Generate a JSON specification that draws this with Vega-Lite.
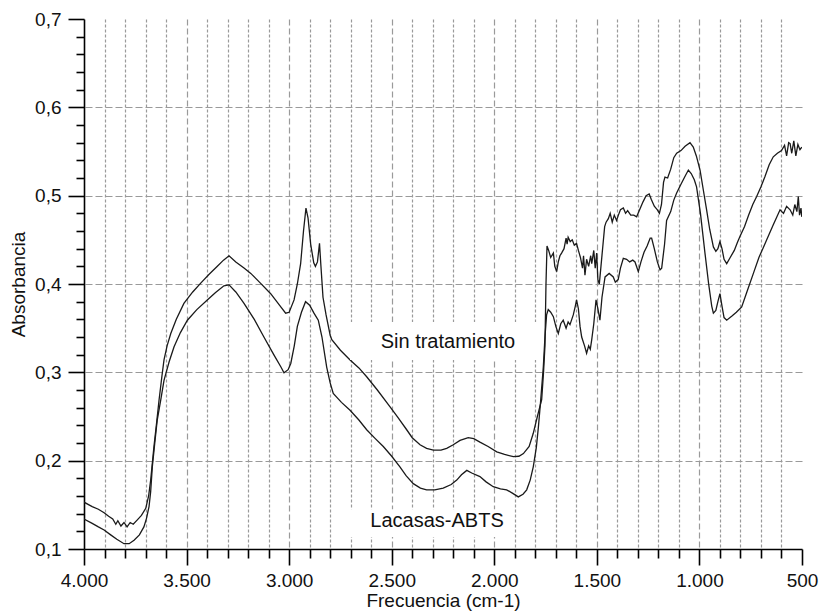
{
  "$schema": "https://vega.github.io/schema/vega-lite/v6.json",
  "width": 718,
  "height": 530,
  "autosize": "none",
  "padding": {"left": 84, "top": 19, "right": 19, "bottom": 67},
  "background": "white",
  "config": {
    "view": {"stroke": null},
    "font": "Liberation Sans",
    "axis": {
      "domainColor": "#000",
      "domainWidth": 1.6,
      "tickColor": "#000",
      "tickWidth": 1.6,
      "gridColor": "#9a9a9a",
      "gridWidth": 1.2,
      "labelFont": "Liberation Sans",
      "labelFontSize": 19,
      "labelColor": "#111",
      "titleFont": "Liberation Sans",
      "titleFontSize": 19,
      "titleFontWeight": "normal",
      "titleColor": "#111",
      "labelOverlap": false,
      "labelFlush": false,
      "labelBound": false
    }
  },
  "datasets": {
    "spectra": [
      {"nu": 4000, "A": 0.153, "serie": "Sin tratamiento"},
      {"nu": 3960, "A": 0.148, "serie": "Sin tratamiento"},
      {"nu": 3930, "A": 0.145, "serie": "Sin tratamiento"},
      {"nu": 3902, "A": 0.141, "serie": "Sin tratamiento"},
      {"nu": 3880, "A": 0.137, "serie": "Sin tratamiento"},
      {"nu": 3860, "A": 0.134, "serie": "Sin tratamiento"},
      {"nu": 3845, "A": 0.128, "serie": "Sin tratamiento"},
      {"nu": 3835, "A": 0.132, "serie": "Sin tratamiento"},
      {"nu": 3820, "A": 0.126, "serie": "Sin tratamiento"},
      {"nu": 3805, "A": 0.130, "serie": "Sin tratamiento"},
      {"nu": 3790, "A": 0.125, "serie": "Sin tratamiento"},
      {"nu": 3775, "A": 0.130, "serie": "Sin tratamiento"},
      {"nu": 3760, "A": 0.128, "serie": "Sin tratamiento"},
      {"nu": 3740, "A": 0.133, "serie": "Sin tratamiento"},
      {"nu": 3720, "A": 0.138, "serie": "Sin tratamiento"},
      {"nu": 3699, "A": 0.146, "serie": "Sin tratamiento"},
      {"nu": 3685, "A": 0.160, "serie": "Sin tratamiento"},
      {"nu": 3675, "A": 0.178, "serie": "Sin tratamiento"},
      {"nu": 3659, "A": 0.216, "serie": "Sin tratamiento"},
      {"nu": 3645, "A": 0.245, "serie": "Sin tratamiento"},
      {"nu": 3634, "A": 0.269, "serie": "Sin tratamiento"},
      {"nu": 3620, "A": 0.296, "serie": "Sin tratamiento"},
      {"nu": 3610, "A": 0.314, "serie": "Sin tratamiento"},
      {"nu": 3595, "A": 0.330, "serie": "Sin tratamiento"},
      {"nu": 3577, "A": 0.344, "serie": "Sin tratamiento"},
      {"nu": 3550, "A": 0.360, "serie": "Sin tratamiento"},
      {"nu": 3513, "A": 0.378, "serie": "Sin tratamiento"},
      {"nu": 3470, "A": 0.391, "serie": "Sin tratamiento"},
      {"nu": 3431, "A": 0.401, "serie": "Sin tratamiento"},
      {"nu": 3390, "A": 0.411, "serie": "Sin tratamiento"},
      {"nu": 3350, "A": 0.420, "serie": "Sin tratamiento"},
      {"nu": 3320, "A": 0.427, "serie": "Sin tratamiento"},
      {"nu": 3293, "A": 0.432, "serie": "Sin tratamiento"},
      {"nu": 3260, "A": 0.425, "serie": "Sin tratamiento"},
      {"nu": 3220, "A": 0.418, "serie": "Sin tratamiento"},
      {"nu": 3187, "A": 0.412, "serie": "Sin tratamiento"},
      {"nu": 3140, "A": 0.401, "serie": "Sin tratamiento"},
      {"nu": 3090, "A": 0.389, "serie": "Sin tratamiento"},
      {"nu": 3050, "A": 0.377, "serie": "Sin tratamiento"},
      {"nu": 3017, "A": 0.367, "serie": "Sin tratamiento"},
      {"nu": 3000, "A": 0.368, "serie": "Sin tratamiento"},
      {"nu": 2976, "A": 0.382, "serie": "Sin tratamiento"},
      {"nu": 2960, "A": 0.400, "serie": "Sin tratamiento"},
      {"nu": 2944, "A": 0.423, "serie": "Sin tratamiento"},
      {"nu": 2930, "A": 0.460, "serie": "Sin tratamiento"},
      {"nu": 2918, "A": 0.486, "serie": "Sin tratamiento"},
      {"nu": 2908, "A": 0.475, "serie": "Sin tratamiento"},
      {"nu": 2895, "A": 0.445, "serie": "Sin tratamiento"},
      {"nu": 2880, "A": 0.424, "serie": "Sin tratamiento"},
      {"nu": 2872, "A": 0.420, "serie": "Sin tratamiento"},
      {"nu": 2862, "A": 0.425, "serie": "Sin tratamiento"},
      {"nu": 2852, "A": 0.446, "serie": "Sin tratamiento"},
      {"nu": 2845, "A": 0.420, "serie": "Sin tratamiento"},
      {"nu": 2835, "A": 0.385, "serie": "Sin tratamiento"},
      {"nu": 2820, "A": 0.365, "serie": "Sin tratamiento"},
      {"nu": 2800, "A": 0.342, "serie": "Sin tratamiento"},
      {"nu": 2792, "A": 0.337, "serie": "Sin tratamiento"},
      {"nu": 2750, "A": 0.325, "serie": "Sin tratamiento"},
      {"nu": 2703, "A": 0.314, "serie": "Sin tratamiento"},
      {"nu": 2660, "A": 0.305, "serie": "Sin tratamiento"},
      {"nu": 2622, "A": 0.295, "serie": "Sin tratamiento"},
      {"nu": 2570, "A": 0.280, "serie": "Sin tratamiento"},
      {"nu": 2508, "A": 0.261, "serie": "Sin tratamiento"},
      {"nu": 2470, "A": 0.249, "serie": "Sin tratamiento"},
      {"nu": 2427, "A": 0.235, "serie": "Sin tratamiento"},
      {"nu": 2400, "A": 0.226, "serie": "Sin tratamiento"},
      {"nu": 2362, "A": 0.218, "serie": "Sin tratamiento"},
      {"nu": 2330, "A": 0.214, "serie": "Sin tratamiento"},
      {"nu": 2297, "A": 0.212, "serie": "Sin tratamiento"},
      {"nu": 2260, "A": 0.212, "serie": "Sin tratamiento"},
      {"nu": 2232, "A": 0.214, "serie": "Sin tratamiento"},
      {"nu": 2200, "A": 0.218, "serie": "Sin tratamiento"},
      {"nu": 2167, "A": 0.223, "serie": "Sin tratamiento"},
      {"nu": 2127, "A": 0.226, "serie": "Sin tratamiento"},
      {"nu": 2100, "A": 0.225, "serie": "Sin tratamiento"},
      {"nu": 2070, "A": 0.221, "serie": "Sin tratamiento"},
      {"nu": 2030, "A": 0.216, "serie": "Sin tratamiento"},
      {"nu": 1988, "A": 0.210, "serie": "Sin tratamiento"},
      {"nu": 1950, "A": 0.207, "serie": "Sin tratamiento"},
      {"nu": 1907, "A": 0.2045, "serie": "Sin tratamiento"},
      {"nu": 1880, "A": 0.205, "serie": "Sin tratamiento"},
      {"nu": 1858, "A": 0.208, "serie": "Sin tratamiento"},
      {"nu": 1830, "A": 0.216, "serie": "Sin tratamiento"},
      {"nu": 1810, "A": 0.231, "serie": "Sin tratamiento"},
      {"nu": 1790, "A": 0.250, "serie": "Sin tratamiento"},
      {"nu": 1769, "A": 0.269, "serie": "Sin tratamiento"},
      {"nu": 1760, "A": 0.300, "serie": "Sin tratamiento"},
      {"nu": 1753, "A": 0.330, "serie": "Sin tratamiento"},
      {"nu": 1748, "A": 0.400, "serie": "Sin tratamiento"},
      {"nu": 1743, "A": 0.443, "serie": "Sin tratamiento"},
      {"nu": 1735, "A": 0.438, "serie": "Sin tratamiento"},
      {"nu": 1725, "A": 0.430, "serie": "Sin tratamiento"},
      {"nu": 1712, "A": 0.435, "serie": "Sin tratamiento"},
      {"nu": 1705, "A": 0.420, "serie": "Sin tratamiento"},
      {"nu": 1696, "A": 0.414, "serie": "Sin tratamiento"},
      {"nu": 1688, "A": 0.425, "serie": "Sin tratamiento"},
      {"nu": 1680, "A": 0.432, "serie": "Sin tratamiento"},
      {"nu": 1672, "A": 0.435, "serie": "Sin tratamiento"},
      {"nu": 1660, "A": 0.440, "serie": "Sin tratamiento"},
      {"nu": 1650, "A": 0.452, "serie": "Sin tratamiento"},
      {"nu": 1645, "A": 0.445, "serie": "Sin tratamiento"},
      {"nu": 1640, "A": 0.453, "serie": "Sin tratamiento"},
      {"nu": 1630, "A": 0.448, "serie": "Sin tratamiento"},
      {"nu": 1620, "A": 0.450, "serie": "Sin tratamiento"},
      {"nu": 1610, "A": 0.444, "serie": "Sin tratamiento"},
      {"nu": 1599, "A": 0.446, "serie": "Sin tratamiento"},
      {"nu": 1590, "A": 0.438, "serie": "Sin tratamiento"},
      {"nu": 1580, "A": 0.430, "serie": "Sin tratamiento"},
      {"nu": 1570, "A": 0.418, "serie": "Sin tratamiento"},
      {"nu": 1565, "A": 0.432, "serie": "Sin tratamiento"},
      {"nu": 1558, "A": 0.410, "serie": "Sin tratamiento"},
      {"nu": 1550, "A": 0.428, "serie": "Sin tratamiento"},
      {"nu": 1540, "A": 0.420, "serie": "Sin tratamiento"},
      {"nu": 1530, "A": 0.432, "serie": "Sin tratamiento"},
      {"nu": 1525, "A": 0.423, "serie": "Sin tratamiento"},
      {"nu": 1515, "A": 0.438, "serie": "Sin tratamiento"},
      {"nu": 1508, "A": 0.418, "serie": "Sin tratamiento"},
      {"nu": 1501, "A": 0.435, "serie": "Sin tratamiento"},
      {"nu": 1495, "A": 0.405, "serie": "Sin tratamiento"},
      {"nu": 1488, "A": 0.400, "serie": "Sin tratamiento"},
      {"nu": 1480, "A": 0.420, "serie": "Sin tratamiento"},
      {"nu": 1470, "A": 0.445, "serie": "Sin tratamiento"},
      {"nu": 1462, "A": 0.465, "serie": "Sin tratamiento"},
      {"nu": 1455, "A": 0.470, "serie": "Sin tratamiento"},
      {"nu": 1444, "A": 0.474, "serie": "Sin tratamiento"},
      {"nu": 1435, "A": 0.480, "serie": "Sin tratamiento"},
      {"nu": 1425, "A": 0.470, "serie": "Sin tratamiento"},
      {"nu": 1415, "A": 0.478, "serie": "Sin tratamiento"},
      {"nu": 1404, "A": 0.472, "serie": "Sin tratamiento"},
      {"nu": 1395, "A": 0.478, "serie": "Sin tratamiento"},
      {"nu": 1385, "A": 0.484, "serie": "Sin tratamiento"},
      {"nu": 1371, "A": 0.486, "serie": "Sin tratamiento"},
      {"nu": 1360, "A": 0.480, "serie": "Sin tratamiento"},
      {"nu": 1350, "A": 0.483, "serie": "Sin tratamiento"},
      {"nu": 1335, "A": 0.478, "serie": "Sin tratamiento"},
      {"nu": 1320, "A": 0.478, "serie": "Sin tratamiento"},
      {"nu": 1306, "A": 0.476, "serie": "Sin tratamiento"},
      {"nu": 1290, "A": 0.485, "serie": "Sin tratamiento"},
      {"nu": 1275, "A": 0.493, "serie": "Sin tratamiento"},
      {"nu": 1260, "A": 0.500, "serie": "Sin tratamiento"},
      {"nu": 1245, "A": 0.502, "serie": "Sin tratamiento"},
      {"nu": 1235, "A": 0.496, "serie": "Sin tratamiento"},
      {"nu": 1220, "A": 0.488, "serie": "Sin tratamiento"},
      {"nu": 1205, "A": 0.484, "serie": "Sin tratamiento"},
      {"nu": 1195, "A": 0.480, "serie": "Sin tratamiento"},
      {"nu": 1185, "A": 0.490, "serie": "Sin tratamiento"},
      {"nu": 1175, "A": 0.515, "serie": "Sin tratamiento"},
      {"nu": 1168, "A": 0.521, "serie": "Sin tratamiento"},
      {"nu": 1155, "A": 0.520, "serie": "Sin tratamiento"},
      {"nu": 1140, "A": 0.530, "serie": "Sin tratamiento"},
      {"nu": 1125, "A": 0.543, "serie": "Sin tratamiento"},
      {"nu": 1111, "A": 0.548, "serie": "Sin tratamiento"},
      {"nu": 1090, "A": 0.551, "serie": "Sin tratamiento"},
      {"nu": 1070, "A": 0.556, "serie": "Sin tratamiento"},
      {"nu": 1046, "A": 0.560, "serie": "Sin tratamiento"},
      {"nu": 1030, "A": 0.555, "serie": "Sin tratamiento"},
      {"nu": 1015, "A": 0.545, "serie": "Sin tratamiento"},
      {"nu": 997, "A": 0.529, "serie": "Sin tratamiento"},
      {"nu": 980, "A": 0.505, "serie": "Sin tratamiento"},
      {"nu": 965, "A": 0.484, "serie": "Sin tratamiento"},
      {"nu": 950, "A": 0.462, "serie": "Sin tratamiento"},
      {"nu": 932, "A": 0.442, "serie": "Sin tratamiento"},
      {"nu": 920, "A": 0.437, "serie": "Sin tratamiento"},
      {"nu": 910, "A": 0.440, "serie": "Sin tratamiento"},
      {"nu": 900, "A": 0.448, "serie": "Sin tratamiento"},
      {"nu": 890, "A": 0.440, "serie": "Sin tratamiento"},
      {"nu": 880, "A": 0.428, "serie": "Sin tratamiento"},
      {"nu": 867, "A": 0.423, "serie": "Sin tratamiento"},
      {"nu": 850, "A": 0.430, "serie": "Sin tratamiento"},
      {"nu": 830, "A": 0.438, "serie": "Sin tratamiento"},
      {"nu": 815, "A": 0.447, "serie": "Sin tratamiento"},
      {"nu": 802, "A": 0.454, "serie": "Sin tratamiento"},
      {"nu": 780, "A": 0.465, "serie": "Sin tratamiento"},
      {"nu": 760, "A": 0.478, "serie": "Sin tratamiento"},
      {"nu": 740, "A": 0.490, "serie": "Sin tratamiento"},
      {"nu": 721, "A": 0.499, "serie": "Sin tratamiento"},
      {"nu": 700, "A": 0.510, "serie": "Sin tratamiento"},
      {"nu": 680, "A": 0.522, "serie": "Sin tratamiento"},
      {"nu": 660, "A": 0.535, "serie": "Sin tratamiento"},
      {"nu": 640, "A": 0.544, "serie": "Sin tratamiento"},
      {"nu": 620, "A": 0.548, "serie": "Sin tratamiento"},
      {"nu": 600, "A": 0.551, "serie": "Sin tratamiento"},
      {"nu": 585, "A": 0.557, "serie": "Sin tratamiento"},
      {"nu": 575, "A": 0.545, "serie": "Sin tratamiento"},
      {"nu": 565, "A": 0.560, "serie": "Sin tratamiento"},
      {"nu": 558, "A": 0.559, "serie": "Sin tratamiento"},
      {"nu": 550, "A": 0.548, "serie": "Sin tratamiento"},
      {"nu": 540, "A": 0.562, "serie": "Sin tratamiento"},
      {"nu": 530, "A": 0.545, "serie": "Sin tratamiento"},
      {"nu": 520, "A": 0.558, "serie": "Sin tratamiento"},
      {"nu": 510, "A": 0.552, "serie": "Sin tratamiento"},
      {"nu": 501, "A": 0.555, "serie": "Sin tratamiento"},
      {"nu": 4000, "A": 0.134, "serie": "Lacasas-ABTS"},
      {"nu": 3960, "A": 0.129, "serie": "Lacasas-ABTS"},
      {"nu": 3930, "A": 0.125, "serie": "Lacasas-ABTS"},
      {"nu": 3902, "A": 0.1215, "serie": "Lacasas-ABTS"},
      {"nu": 3870, "A": 0.116, "serie": "Lacasas-ABTS"},
      {"nu": 3840, "A": 0.111, "serie": "Lacasas-ABTS"},
      {"nu": 3805, "A": 0.106, "serie": "Lacasas-ABTS"},
      {"nu": 3780, "A": 0.106, "serie": "Lacasas-ABTS"},
      {"nu": 3756, "A": 0.110, "serie": "Lacasas-ABTS"},
      {"nu": 3730, "A": 0.116, "serie": "Lacasas-ABTS"},
      {"nu": 3708, "A": 0.125, "serie": "Lacasas-ABTS"},
      {"nu": 3695, "A": 0.135, "serie": "Lacasas-ABTS"},
      {"nu": 3683, "A": 0.148, "serie": "Lacasas-ABTS"},
      {"nu": 3675, "A": 0.165, "serie": "Lacasas-ABTS"},
      {"nu": 3667, "A": 0.193, "serie": "Lacasas-ABTS"},
      {"nu": 3655, "A": 0.220, "serie": "Lacasas-ABTS"},
      {"nu": 3643, "A": 0.246, "serie": "Lacasas-ABTS"},
      {"nu": 3625, "A": 0.270, "serie": "Lacasas-ABTS"},
      {"nu": 3610, "A": 0.291, "serie": "Lacasas-ABTS"},
      {"nu": 3585, "A": 0.312, "serie": "Lacasas-ABTS"},
      {"nu": 3561, "A": 0.329, "serie": "Lacasas-ABTS"},
      {"nu": 3530, "A": 0.345, "serie": "Lacasas-ABTS"},
      {"nu": 3496, "A": 0.359, "serie": "Lacasas-ABTS"},
      {"nu": 3450, "A": 0.371, "serie": "Lacasas-ABTS"},
      {"nu": 3399, "A": 0.382, "serie": "Lacasas-ABTS"},
      {"nu": 3360, "A": 0.390, "serie": "Lacasas-ABTS"},
      {"nu": 3318, "A": 0.398, "serie": "Lacasas-ABTS"},
      {"nu": 3293, "A": 0.399, "serie": "Lacasas-ABTS"},
      {"nu": 3260, "A": 0.391, "serie": "Lacasas-ABTS"},
      {"nu": 3220, "A": 0.378, "serie": "Lacasas-ABTS"},
      {"nu": 3170, "A": 0.360, "serie": "Lacasas-ABTS"},
      {"nu": 3123, "A": 0.340, "serie": "Lacasas-ABTS"},
      {"nu": 3075, "A": 0.320, "serie": "Lacasas-ABTS"},
      {"nu": 3040, "A": 0.306, "serie": "Lacasas-ABTS"},
      {"nu": 3025, "A": 0.2996, "serie": "Lacasas-ABTS"},
      {"nu": 3005, "A": 0.303, "serie": "Lacasas-ABTS"},
      {"nu": 2992, "A": 0.310, "serie": "Lacasas-ABTS"},
      {"nu": 2975, "A": 0.330, "serie": "Lacasas-ABTS"},
      {"nu": 2960, "A": 0.352, "serie": "Lacasas-ABTS"},
      {"nu": 2940, "A": 0.368, "serie": "Lacasas-ABTS"},
      {"nu": 2920, "A": 0.380, "serie": "Lacasas-ABTS"},
      {"nu": 2900, "A": 0.376, "serie": "Lacasas-ABTS"},
      {"nu": 2879, "A": 0.367, "serie": "Lacasas-ABTS"},
      {"nu": 2858, "A": 0.359, "serie": "Lacasas-ABTS"},
      {"nu": 2840, "A": 0.340, "serie": "Lacasas-ABTS"},
      {"nu": 2817, "A": 0.306, "serie": "Lacasas-ABTS"},
      {"nu": 2800, "A": 0.288, "serie": "Lacasas-ABTS"},
      {"nu": 2785, "A": 0.276, "serie": "Lacasas-ABTS"},
      {"nu": 2745, "A": 0.266, "serie": "Lacasas-ABTS"},
      {"nu": 2703, "A": 0.257, "serie": "Lacasas-ABTS"},
      {"nu": 2660, "A": 0.246, "serie": "Lacasas-ABTS"},
      {"nu": 2622, "A": 0.235, "serie": "Lacasas-ABTS"},
      {"nu": 2580, "A": 0.225, "serie": "Lacasas-ABTS"},
      {"nu": 2541, "A": 0.216, "serie": "Lacasas-ABTS"},
      {"nu": 2500, "A": 0.205, "serie": "Lacasas-ABTS"},
      {"nu": 2460, "A": 0.193, "serie": "Lacasas-ABTS"},
      {"nu": 2430, "A": 0.183, "serie": "Lacasas-ABTS"},
      {"nu": 2395, "A": 0.174, "serie": "Lacasas-ABTS"},
      {"nu": 2360, "A": 0.169, "serie": "Lacasas-ABTS"},
      {"nu": 2330, "A": 0.167, "serie": "Lacasas-ABTS"},
      {"nu": 2290, "A": 0.167, "serie": "Lacasas-ABTS"},
      {"nu": 2249, "A": 0.169, "serie": "Lacasas-ABTS"},
      {"nu": 2210, "A": 0.173, "serie": "Lacasas-ABTS"},
      {"nu": 2183, "A": 0.178, "serie": "Lacasas-ABTS"},
      {"nu": 2160, "A": 0.184, "serie": "Lacasas-ABTS"},
      {"nu": 2134, "A": 0.189, "serie": "Lacasas-ABTS"},
      {"nu": 2110, "A": 0.186, "serie": "Lacasas-ABTS"},
      {"nu": 2070, "A": 0.182, "serie": "Lacasas-ABTS"},
      {"nu": 2040, "A": 0.176, "serie": "Lacasas-ABTS"},
      {"nu": 2005, "A": 0.1705, "serie": "Lacasas-ABTS"},
      {"nu": 1970, "A": 0.168, "serie": "Lacasas-ABTS"},
      {"nu": 1940, "A": 0.167, "serie": "Lacasas-ABTS"},
      {"nu": 1910, "A": 0.163, "serie": "Lacasas-ABTS"},
      {"nu": 1883, "A": 0.159, "serie": "Lacasas-ABTS"},
      {"nu": 1860, "A": 0.162, "serie": "Lacasas-ABTS"},
      {"nu": 1842, "A": 0.167, "serie": "Lacasas-ABTS"},
      {"nu": 1825, "A": 0.178, "serie": "Lacasas-ABTS"},
      {"nu": 1810, "A": 0.193, "serie": "Lacasas-ABTS"},
      {"nu": 1795, "A": 0.215, "serie": "Lacasas-ABTS"},
      {"nu": 1785, "A": 0.238, "serie": "Lacasas-ABTS"},
      {"nu": 1775, "A": 0.265, "serie": "Lacasas-ABTS"},
      {"nu": 1761, "A": 0.306, "serie": "Lacasas-ABTS"},
      {"nu": 1753, "A": 0.340, "serie": "Lacasas-ABTS"},
      {"nu": 1745, "A": 0.365, "serie": "Lacasas-ABTS"},
      {"nu": 1737, "A": 0.371, "serie": "Lacasas-ABTS"},
      {"nu": 1725, "A": 0.368, "serie": "Lacasas-ABTS"},
      {"nu": 1712, "A": 0.363, "serie": "Lacasas-ABTS"},
      {"nu": 1700, "A": 0.352, "serie": "Lacasas-ABTS"},
      {"nu": 1688, "A": 0.344, "serie": "Lacasas-ABTS"},
      {"nu": 1676, "A": 0.355, "serie": "Lacasas-ABTS"},
      {"nu": 1664, "A": 0.359, "serie": "Lacasas-ABTS"},
      {"nu": 1650, "A": 0.350, "serie": "Lacasas-ABTS"},
      {"nu": 1640, "A": 0.357, "serie": "Lacasas-ABTS"},
      {"nu": 1631, "A": 0.354, "serie": "Lacasas-ABTS"},
      {"nu": 1615, "A": 0.365, "serie": "Lacasas-ABTS"},
      {"nu": 1605, "A": 0.375, "serie": "Lacasas-ABTS"},
      {"nu": 1599, "A": 0.382, "serie": "Lacasas-ABTS"},
      {"nu": 1590, "A": 0.372, "serie": "Lacasas-ABTS"},
      {"nu": 1582, "A": 0.352, "serie": "Lacasas-ABTS"},
      {"nu": 1574, "A": 0.340, "serie": "Lacasas-ABTS"},
      {"nu": 1560, "A": 0.330, "serie": "Lacasas-ABTS"},
      {"nu": 1550, "A": 0.3216, "serie": "Lacasas-ABTS"},
      {"nu": 1540, "A": 0.330, "serie": "Lacasas-ABTS"},
      {"nu": 1532, "A": 0.326, "serie": "Lacasas-ABTS"},
      {"nu": 1525, "A": 0.337, "serie": "Lacasas-ABTS"},
      {"nu": 1515, "A": 0.355, "serie": "Lacasas-ABTS"},
      {"nu": 1504, "A": 0.382, "serie": "Lacasas-ABTS"},
      {"nu": 1495, "A": 0.372, "serie": "Lacasas-ABTS"},
      {"nu": 1485, "A": 0.359, "serie": "Lacasas-ABTS"},
      {"nu": 1475, "A": 0.385, "serie": "Lacasas-ABTS"},
      {"nu": 1460, "A": 0.408, "serie": "Lacasas-ABTS"},
      {"nu": 1440, "A": 0.412, "serie": "Lacasas-ABTS"},
      {"nu": 1420, "A": 0.408, "serie": "Lacasas-ABTS"},
      {"nu": 1410, "A": 0.402, "serie": "Lacasas-ABTS"},
      {"nu": 1396, "A": 0.405, "serie": "Lacasas-ABTS"},
      {"nu": 1385, "A": 0.418, "serie": "Lacasas-ABTS"},
      {"nu": 1371, "A": 0.429, "serie": "Lacasas-ABTS"},
      {"nu": 1355, "A": 0.428, "serie": "Lacasas-ABTS"},
      {"nu": 1340, "A": 0.425, "serie": "Lacasas-ABTS"},
      {"nu": 1325, "A": 0.427, "serie": "Lacasas-ABTS"},
      {"nu": 1314, "A": 0.425, "serie": "Lacasas-ABTS"},
      {"nu": 1298, "A": 0.414, "serie": "Lacasas-ABTS"},
      {"nu": 1285, "A": 0.425, "serie": "Lacasas-ABTS"},
      {"nu": 1270, "A": 0.436, "serie": "Lacasas-ABTS"},
      {"nu": 1255, "A": 0.443, "serie": "Lacasas-ABTS"},
      {"nu": 1240, "A": 0.452, "serie": "Lacasas-ABTS"},
      {"nu": 1233, "A": 0.452, "serie": "Lacasas-ABTS"},
      {"nu": 1220, "A": 0.440, "serie": "Lacasas-ABTS"},
      {"nu": 1205, "A": 0.425, "serie": "Lacasas-ABTS"},
      {"nu": 1192, "A": 0.416, "serie": "Lacasas-ABTS"},
      {"nu": 1184, "A": 0.418, "serie": "Lacasas-ABTS"},
      {"nu": 1170, "A": 0.445, "serie": "Lacasas-ABTS"},
      {"nu": 1160, "A": 0.472, "serie": "Lacasas-ABTS"},
      {"nu": 1140, "A": 0.482, "serie": "Lacasas-ABTS"},
      {"nu": 1125, "A": 0.495, "serie": "Lacasas-ABTS"},
      {"nu": 1111, "A": 0.503, "serie": "Lacasas-ABTS"},
      {"nu": 1090, "A": 0.513, "serie": "Lacasas-ABTS"},
      {"nu": 1070, "A": 0.522, "serie": "Lacasas-ABTS"},
      {"nu": 1054, "A": 0.529, "serie": "Lacasas-ABTS"},
      {"nu": 1040, "A": 0.525, "serie": "Lacasas-ABTS"},
      {"nu": 1025, "A": 0.518, "serie": "Lacasas-ABTS"},
      {"nu": 1014, "A": 0.510, "serie": "Lacasas-ABTS"},
      {"nu": 995, "A": 0.480, "serie": "Lacasas-ABTS"},
      {"nu": 973, "A": 0.435, "serie": "Lacasas-ABTS"},
      {"nu": 955, "A": 0.400, "serie": "Lacasas-ABTS"},
      {"nu": 940, "A": 0.375, "serie": "Lacasas-ABTS"},
      {"nu": 932, "A": 0.367, "serie": "Lacasas-ABTS"},
      {"nu": 920, "A": 0.370, "serie": "Lacasas-ABTS"},
      {"nu": 910, "A": 0.380, "serie": "Lacasas-ABTS"},
      {"nu": 900, "A": 0.389, "serie": "Lacasas-ABTS"},
      {"nu": 890, "A": 0.375, "serie": "Lacasas-ABTS"},
      {"nu": 880, "A": 0.362, "serie": "Lacasas-ABTS"},
      {"nu": 867, "A": 0.359, "serie": "Lacasas-ABTS"},
      {"nu": 840, "A": 0.364, "serie": "Lacasas-ABTS"},
      {"nu": 820, "A": 0.368, "serie": "Lacasas-ABTS"},
      {"nu": 794, "A": 0.374, "serie": "Lacasas-ABTS"},
      {"nu": 770, "A": 0.390, "serie": "Lacasas-ABTS"},
      {"nu": 737, "A": 0.412, "serie": "Lacasas-ABTS"},
      {"nu": 710, "A": 0.430, "serie": "Lacasas-ABTS"},
      {"nu": 672, "A": 0.450, "serie": "Lacasas-ABTS"},
      {"nu": 640, "A": 0.467, "serie": "Lacasas-ABTS"},
      {"nu": 607, "A": 0.484, "serie": "Lacasas-ABTS"},
      {"nu": 590, "A": 0.480, "serie": "Lacasas-ABTS"},
      {"nu": 575, "A": 0.488, "serie": "Lacasas-ABTS"},
      {"nu": 558, "A": 0.484, "serie": "Lacasas-ABTS"},
      {"nu": 545, "A": 0.478, "serie": "Lacasas-ABTS"},
      {"nu": 535, "A": 0.490, "serie": "Lacasas-ABTS"},
      {"nu": 525, "A": 0.482, "serie": "Lacasas-ABTS"},
      {"nu": 518, "A": 0.499, "serie": "Lacasas-ABTS"},
      {"nu": 512, "A": 0.478, "serie": "Lacasas-ABTS"},
      {"nu": 505, "A": 0.486, "serie": "Lacasas-ABTS"},
      {"nu": 501, "A": 0.476, "serie": "Lacasas-ABTS"}
    ],
    "labels": [
      {"nu": 2226, "A": 0.3347, "x1": 2703, "x2": 1792, "y1": 0.314, "y2": 0.357, "label": "Sin tratamiento"},
      {"nu": 2279, "A": 0.1317, "x1": 2752, "x2": 1948, "y1": 0.1136, "y2": 0.145, "label": "Lacasas-ABTS"}
    ]
  },
  "layer": [
    {
      "data": {"name": "spectra"},
      "mark": {"type": "line", "color": "#1a1a1a", "strokeWidth": 1.3, "clip": true},
      "encoding": {
        "x": {
          "field": "nu",
          "type": "quantitative",
          "scale": {"domain": [500, 4000], "reverse": true, "nice": false, "zero": false},
          "axis": {
            "title": "Frecuencia (cm-1)",
            "values": [500, 600, 700, 800, 900, 1000, 1100, 1200, 1300, 1400, 1500, 1600, 1700, 1800, 1900, 2000, 2100, 2200, 2300, 2400, 2500, 2600, 2700, 2800, 2900, 3000, 3100, 3200, 3300, 3400, 3500, 3600, 3700, 3800, 3900, 4000],
            "tickCount": 100,
            "labelExpr": "datum.value % 500 === 0 ? replace(format(datum.value, ','), ',', '.') : ''",
            "tickSize": {"condition": {"test": "datum.value % 500 === 0", "value": 16}, "value": 9},
            "gridDash": {"condition": {"test": "datum.value % 500 === 0", "value": [6, 3]}, "value": [3, 2]},
            "gridOpacity": {"condition": {"test": "datum.value === 500 || datum.value === 4000", "value": 0}, "value": 1},
            "labelPadding": 6,
            "titlePadding": 1
          }
        },
        "y": {
          "field": "A",
          "type": "quantitative",
          "scale": {"domain": [0.1, 0.7], "nice": false, "zero": false},
          "axis": {
            "title": "Absorbancia",
            "values": [0.1, 0.12, 0.14, 0.16, 0.18, 0.2, 0.22, 0.24, 0.26, 0.28, 0.3, 0.32, 0.34, 0.36, 0.38, 0.4, 0.42, 0.44, 0.46, 0.48, 0.5, 0.52, 0.54, 0.56, 0.58, 0.6, 0.62, 0.64, 0.66, 0.68, 0.7],
            "tickCount": 100,
            "labelExpr": "abs(datum.value * 10 - round(datum.value * 10)) < 0.000001 ? replace(format(datum.value, '.1f'), '.', ',') : ''",
            "tickSize": {"condition": {"test": "abs(datum.value * 10 - round(datum.value * 10)) < 0.000001", "value": 16}, "value": 8},
            "gridDash": [7, 3],
            "gridOpacity": {"condition": {"test": "abs(datum.value * 10 - round(datum.value * 10)) < 0.000001 && datum.value > 0.15 && datum.value < 0.65", "value": 1}, "value": 0},
            "labelPadding": 7,
            "titlePadding": 6
          }
        },
        "detail": {"field": "serie", "type": "nominal"}
      }
    },
    {
      "data": {"name": "labels"},
      "mark": {"type": "rect", "color": "white"},
      "encoding": {
        "x": {"field": "x1", "type": "quantitative"},
        "x2": {"field": "x2"},
        "y": {"field": "y1", "type": "quantitative"},
        "y2": {"field": "y2"}
      }
    },
    {
      "data": {"name": "labels"},
      "mark": {"type": "text", "font": "Liberation Sans", "fontSize": 20, "color": "#111", "align": "center", "baseline": "middle"},
      "encoding": {
        "x": {"field": "nu", "type": "quantitative"},
        "y": {"field": "A", "type": "quantitative"},
        "text": {"field": "label"}
      }
    }
  ]
}
